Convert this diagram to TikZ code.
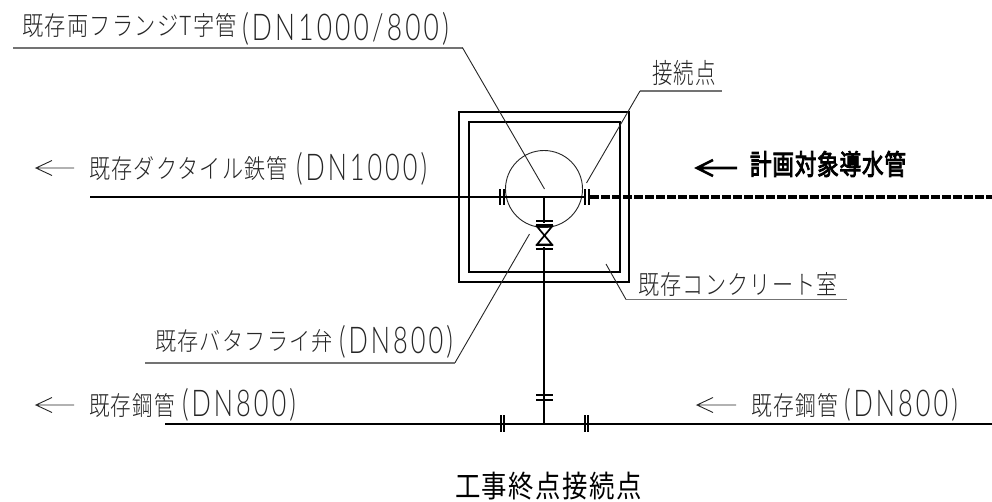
\documentclass[tikz,border=0pt]{standalone}
\usepackage{fontspec}
\usepackage{graphicx}
\newfontfamily\jp{Noto Sans CJK JP Light}[LetterSpace=6]
\newfontfamily\jpb{Noto Sans CJK JP}[FakeBold=3.5,LetterSpace=4]
\newfontfamily\jpn{Noto Sans CJK JP}[LetterSpace=6]
\newfontfamily\lat{Lato}[UprightFont=* Light,LetterSpace=12]
\newcommand{\fitj}[3]{\resizebox*{#1pt}{\dimexpr #2pt*120/100\relax}{\jp #3}}
\newcommand{\fitl}[3]{\resizebox*{#1pt}{\dimexpr #2pt*118/100\relax}{\lat #3}}
\tikzset{
  x=1pt,y=-1pt,
  txt/.style={inner sep=0pt,outer sep=0pt,anchor=west,text=black!85},
  pipe/.style={draw=black,line width=2pt},
  wall/.style={draw=black,line width=2pt},
  flange/.style={draw=black,line width=2pt},
  newpipe/.style={draw=black,line width=3.2pt,dash pattern=on 9.2pt off 1.8pt},
  lead/.style={draw=black!85,line width=0.9pt},
  under/.style={draw=black!55,line width=1.6pt},
  thinarrow/.style={draw=black!85,line width=0.9pt},
  boldarrow/.style={draw=black,line width=2.6pt},
}
\begin{document}
\begin{tikzpicture}
\useasboundingbox[fill=white] (0,0) rectangle (992,501);
% concrete chamber
\node[wall,minimum width=170pt,minimum height=170pt,inner sep=0pt] (outerbox) at (544,197) {};
\node[wall,minimum width=151pt,minimum height=150pt,inner sep=0pt] (innerbox) at (544.5,197) {};
% tee circle
\node[circle,draw=black!85,line width=0.9pt,minimum size=77pt,inner sep=0pt] (tee) at (544,189) {};
% pipe nodes
\coordinate (mainL) at (90,197);
\coordinate (mainJ) at (544,197);
\coordinate (mainR) at (586,197);
\coordinate (newL) at (590,197);
\coordinate (newR) at (992,197);
\coordinate (lowL) at (165,424);
\coordinate (lowJ) at (544,424);
\coordinate (lowR) at (992,424);
\coordinate (vA) at (544,223);
\coordinate (vB) at (544,247);
\draw[pipe] (mainL) -- (mainR);
\draw[newpipe] (newL) -- (newR);
\draw[pipe] (lowL) -- (lowR);
\draw[pipe] (mainJ) -- (vA);
\draw[pipe] (vB) -- (lowJ);
% flanges
\foreach \n/\x in {a/499.5,b/503.5,c/584.5,d/588.5}{
  \coordinate (f\n t) at (\x,189); \coordinate (f\n b) at (\x,205);
  \draw[flange] (f\n t) -- (f\n b);}
\foreach \n/\x in {e/500.5,f/504,g/584.5,h/588}{
  \coordinate (f\n t) at (\x,415); \coordinate (f\n b) at (\x,432);
  \draw[flange] (f\n t) -- (f\n b);}
\foreach \n/\y in {i/221,j/225,k/245,l/249,m/395,n/399.5}{
  \coordinate (f\n l) at (536,\y); \coordinate (f\n r) at (553,\y);
  \draw[flange] (f\n l) -- (f\n r);}
% valve
\coordinate (v1) at (537,226.5);
\coordinate (v2) at (552,226.5);
\coordinate (v3) at (537,244.5);
\coordinate (v4) at (552,244.5);
\draw[draw=black,line width=1.7pt,line join=miter] (v1) -- (v2) -- (v3) -- (v4) -- cycle;
% labels
\node[txt] (t1a) at (22,25.5) {\fitj{215}{20}{既存両フランジT字管}};
\node[txt] (t1b) at (242,29) {\fitl{207}{28}{(DN1000/800)}};
\node[txt] (t2a) at (89,168.5) {\fitj{199}{20}{既存ダクタイル鉄管}};
\node[txt] (t2b) at (296,169) {\fitl{131}{28}{(DN1000)}};
\node[txt] (t3) at (652,73) {\fitj{64}{21}{接続点}};
\node[txt,text=black] (t4) at (750,164) {\resizebox*{156pt}{26pt}{\jpb 計画対象導水管}};
\node[txt] (t5) at (638,284) {\fitj{200}{20}{既存コンクリート室}};
\node[txt] (t6a) at (155,341) {\fitj{178}{19}{既存バタフライ弁}};
\node[txt] (t6b) at (339,342) {\fitl{114}{28}{(DN800)}};
\node[txt] (t7a) at (89,405) {\fitj{86}{20}{既存鋼管}};
\node[txt] (t7b) at (182,405) {\fitl{114}{28}{(DN800)}};
\node[txt] (t8a) at (751,405) {\fitj{87}{20}{既存鋼管}};
\node[txt] (t8b) at (844,405) {\fitl{114}{28}{(DN800)}};
\node[txt,text=black] (t9) at (455,486) {\resizebox*{187pt}{28pt}{\jpn 工事終点接続点}};
% leaders
\coordinate (l1a) at (13,47.7); \coordinate (l1b) at (462.5,47.7); \coordinate (l1c) at (544.5,189);
\draw[under] (l1a) -- (l1b); \draw[lead] (l1b) -- (l1c);
\coordinate (l2a) at (640,91); \coordinate (l2b) at (722,91); \coordinate (l2c) at (586.5,183);
\draw[under] (l2a) -- (l2b); \draw[lead] (l2a) -- (l2c);
\coordinate (l3a) at (145,362.7); \coordinate (l3b) at (455,362.7); \coordinate (l3c) at (529.5,234);
\draw[under] (l3a) -- (l3b); \draw[lead] (l3b) -- (l3c);
\coordinate (l4a) at (626,299.5); \coordinate (l4b) at (847,299.5); \coordinate (l4c) at (606,264);
\draw[under] (l4a) -- (l4b); \draw[lead] (l4a) -- (l4c);
% flow arrows
\foreach \n/\xa/\xb/\y in {a/36/74/168,b/36/74/405,c/697/736/405}{
  \coordinate (ar\n) at (\xa,\y); \coordinate (ar\n e) at (\xb,\y);
  \coordinate (ar\n u) at (\xa+16,\y-7.5); \coordinate (ar\n d) at (\xa+16,\y+7.5);
  \draw[thinarrow] (ar\n u) -- (ar\n) -- (ar\n d) (ar\n) -- (ar\n e);}
\coordinate (ard) at (697,168); \coordinate (arde) at (737,168);
\coordinate (ardu) at (713,160); \coordinate (ardd) at (713,176);
\draw[boldarrow] (ardu) -- (ard) -- (ardd) (ard) -- (arde);
\end{tikzpicture}
\end{document}
